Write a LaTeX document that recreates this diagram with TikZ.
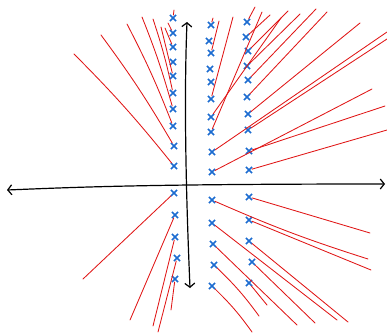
\documentclass[tikz,border=0pt]{standalone}
\usetikzlibrary{arrows.meta,shapes.misc}
\definecolor{locusred}{RGB}{224,22,22}
\definecolor{poleblue}{RGB}{28,108,208}
\tikzset{
	pole/.style = {cross out, draw = poleblue, line width = 1.6pt, minimum size = 4.5pt, inner sep = 0pt},
	branch/.style = {locusred, line width = 0.85pt, line cap = round},
	axis/.style = {black, line width = 1.2pt, line cap = round, {Straight Barb[length = 4pt, width = 10pt]}-{Straight Barb[length = 4pt, width = 10pt]}}
}
\begin{document}
\begin{tikzpicture} [x = 1pt, y = -1pt]
	\useasboundingbox (0,0) rectangle (387,333);
	\coordinate (xl) at (7,190);
	\coordinate (xr) at (385,184);
	\coordinate (yt) at (187,22);
	\coordinate (yb) at (190,288);
	\draw [axis] (xl) .. controls (80,187) and (150,184) .. (xr);
	\draw [axis] (yb) .. controls (188,240) and (183,120) .. (yt);
	% upper left column
	\node [pole] (nw1) at (173,18) {};
	\node [pole] (nw2) at (173,33) {};
	\node [pole] (nw3) at (173,47) {};
	\node [pole] (nw4) at (173,62) {};
	\node [pole] (nw5) at (173,76) {};
	\node [pole] (nw6) at (173,93) {};
	\node [pole] (nw7) at (173,109) {};
	\node [pole] (nw8) at (173,126) {};
	\node [pole] (nw9) at (174,146) {};
	\node [pole] (nw10) at (174,166) {};
	% upper right columns
	\node [pole] (na1) at (211,25) {};
	\node [pole] (na2) at (209,41) {};
	\node [pole] (na3) at (211,53) {};
	\node [pole] (na4) at (210,69) {};
	\node [pole] (na5) at (211,82) {};
	\node [pole] (na6) at (211,99) {};
	\node [pole] (na7) at (211,117) {};
	\node [pole] (na8) at (211,132) {};
	\node [pole] (na9) at (212,152) {};
	\node [pole] (na10) at (212,172) {};
	\node [pole] (nb1) at (247,22) {};
	\node [pole] (nb2) at (246,37) {};
	\node [pole] (nb3) at (248,51) {};
	\node [pole] (nb4) at (247,66) {};
	\node [pole] (nb5) at (248,80) {};
	\node [pole] (nb6) at (247,97) {};
	\node [pole] (nb7) at (248,114) {};
	\node [pole] (nb8) at (248,130) {};
	\node [pole] (nb9) at (249,151) {};
	\node [pole] (nb10) at (249,170) {};
	% lower half
	\node [pole] (sw1) at (174,193) {};
	\node [pole] (sw2) at (175,215) {};
	\node [pole] (sw3) at (175,237) {};
	\node [pole] (sw4) at (177,258) {};
	\node [pole] (sw5) at (175,279) {};
	\node [pole] (sa1) at (212,200) {};
	\node [pole] (sa2) at (212,223) {};
	\node [pole] (sa3) at (213,244) {};
	\node [pole] (sa4) at (214,265) {};
	\node [pole] (sa5) at (212,286) {};
	\node [pole] (sb1) at (249,197) {};
	\node [pole] (sb2) at (249,220) {};
	\node [pole] (sb3) at (249,241) {};
	\node [pole] (sb4) at (252,262) {};
	\node [pole] (sb5) at (249,283) {};
	% branches
	\draw [branch] (nw1) -- (174,10) coordinate (nw1e);
	\draw [branch] (nw2) -- (168,23) coordinate (nw2e);
	\draw [branch] (nw3) -- (165,28) coordinate (nw3e);
	\draw [branch] (nw5) -- (161,27) coordinate (nw5e);
	\draw [branch] (nw6) to [bend right = 3] (153,19) coordinate (nw6e);
	\draw [branch] (nw7) to [bend right = 3] (142,17) coordinate (nw7e);
	\draw [branch] (nw8) to [bend right = 3] (127,24) coordinate (nw8e);
	\draw [branch] (nw9) to [bend right = 3] (101,35) coordinate (nw9e);
	\draw [branch] (nw10) to [bend right = 3] (74,54) coordinate (nw10e);
	\draw [branch] (na1) -- (213,18) coordinate (na1e);
	\draw [branch] (na3) -- (219,21) coordinate (na3e);
	\draw [branch] (na6) -- (233,17) coordinate (na6e);
	\draw [branch] (na7) -- (281,18) coordinate (na7e);
	\draw [branch] (na8) -- (262,12) coordinate (na8e);
	\draw [branch] (na9) -- (387,32) coordinate (na9e);
	\draw [branch] (na10) -- (372,89) coordinate (na10e);
	\draw [branch] (nb1) -- (255,7) coordinate (nb1e);
	\draw [branch] (nb2) -- (270,15) coordinate (nb2e);
	\draw [branch] (nb3) -- (288,11) coordinate (nb3e);
	\draw [branch] (nb4) -- (300,14) coordinate (nb4e);
	\draw [branch] (nb5) -- (316,9) coordinate (nb5e);
	\draw [branch] (nb6) -- (327,12) coordinate (nb6e);
	\draw [branch] (nb7) -- (360,23) coordinate (nb7e);
	\draw [branch] (nb8) -- (387,39) coordinate (nb8e);
	\draw [branch] (nb9) -- (385,106) coordinate (nb9e);
	\draw [branch] (nb10) -- (387,130) coordinate (nb10e);
	\draw [branch] (sw1) -- (83,279) coordinate (sw1e);
	\draw [branch] (sw2) -- (130,320) coordinate (sw2e);
	\draw [branch] (sw3) -- (153,326) coordinate (sw3e);
	\draw [branch] (sw4) -- (158,332) coordinate (sw4e);
	\draw [branch] (sw5) -- (171,310) coordinate (sw5e);
	\draw [branch] (sa1) to [bend right = 3] (368,259) coordinate (sa1e);
	\draw [branch] (sa2) -- (337,320) coordinate (sa2e);
	\draw [branch] (sa3) -- (297,325) coordinate (sa3e);
	\draw [branch] (sa4) to [bend left = 5] (259,316) coordinate (sa4e);
	\draw [branch] (sa5) to [bend left = 5] (252,332) coordinate (sa5e);
	\draw [branch] (sb1) -- (370,233) coordinate (sb1e);
	\draw [branch] (sb2) -- (371,270) coordinate (sb2e);
	\draw [branch] (sb3) -- (348,322) coordinate (sb3e);
	\draw [branch] (sb4) -- (315,323) coordinate (sb4e);
	\draw [branch] (sb5) -- (267,305) coordinate (sb5e);
\end{tikzpicture}
\end{document}
